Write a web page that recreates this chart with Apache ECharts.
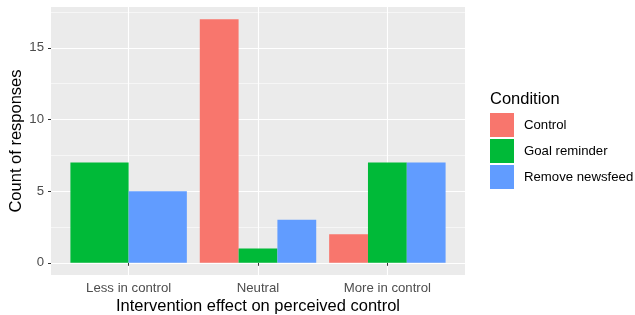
<html>
<head>
<meta charset="utf-8">
<script src="https://cdn.jsdelivr.net/npm/echarts@6/dist/echarts.min.js"></script>
</head>
<body style="margin:0">
<div id="main" style="width:635px;height:315px"></div>
<script>
var categories = ['Less in control', 'Neutral', 'More in control'];
var conditions = ['Control', 'Goal reminder', 'Remove newsfeed'];
var control = [0, 17, 2];
var goalReminder = [7, 1, 7];
var removeNewsfeed = [5, 3, 7];
var colors = ['#F8766D', '#00BA38', '#619CFF'];

var counts = [control, goalReminder, removeNewsfeed];

// ggplot-style dodge: bars present in a category share a width of 0.9
function dodge(seriesIdx) {
    var out = [];
    for (var c = 0; c < categories.length; c++) {
        var present = [];
        for (var s = 0; s < counts.length; s++) {
            if (counts[s][c] > 0) present.push(s);
        }
        var k = present.indexOf(seriesIdx);
        if (k < 0) continue;
        var w = 0.9 / present.length;
        out.push([c + 1 - 0.45 + (k + 0.5) * w, counts[seriesIdx][c], w]);
    }
    return out;
}

function renderBar(params, api) {
    var x = api.value(0), v = api.value(1), w = api.value(2);
    var p0 = api.coord([x - w / 2, v]);
    var p1 = api.coord([x + w / 2, 0]);
    return {
        type: 'rect',
        shape: {x: p0[0], y: p0[1], width: p1[0] - p0[0], height: p1[1] - p0[1]},
        style: {fill: api.visual('color')}
    };
}

var myChart = echarts.init(document.getElementById('main'));
var font = 'Liberation Sans, Arial, sans-serif';

myChart.setOption({
    animation: false,
    backgroundColor: '#fff',
    textStyle: {fontFamily: font},
    title: {
        text: 'Condition',
        left: 485,
        top: 86,
        textStyle: {fontSize: 16.5, fontWeight: 'normal', color: '#000', fontFamily: font}
    },
    legend: {
        orient: 'vertical',
        left: 485,
        top: 108,
        itemWidth: 24,
        itemHeight: 24,
        itemGap: 2,
        icon: 'rect',
        data: conditions,
        textStyle: {fontSize: 13.2, color: '#000', fontFamily: font, padding: [0, 0, 0, 5]}
    },
    grid: {
        left: 51, right: 170, top: 7, bottom: 40,
        containLabel: false, outerBoundsMode: 'none',
        show: true, backgroundColor: '#EBEBEB', borderWidth: 0
    },
    xAxis: {
        type: 'value',
        min: 0.4,
        max: 3.6,
        splitNumber: 3,
        name: 'Intervention effect on perceived control',
        nameLocation: 'middle',
        nameGap: 23,
        nameMoveOverlap: false,
        nameTextStyle: {fontSize: 16.5, color: '#000', fontFamily: font},
        axisLine: {show: false},
        axisTick: {show: true, length: 3, lineStyle: {color: '#333'}, customValues: [1, 2, 3]},
        axisLabel: {
            customValues: [1, 2, 3],
            margin: 7,
            fontSize: 13.2,
            color: '#4D4D4D',
            formatter: function (v) { return categories[Math.round(v) - 1] || ''; }
        },
        splitLine: {show: true, lineStyle: {color: '#fff', width: 1.1}}
    },
    yAxis: {
        type: 'value',
        min: -0.85,
        max: 17.85,
        splitNumber: 4,
        name: 'Count of responses',
        nameLocation: 'middle',
        nameGap: 26,
        nameMoveOverlap: false,
        nameTextStyle: {fontSize: 16.5, color: '#000', fontFamily: font},
        axisLine: {show: false},
        axisTick: {show: true, length: 3, lineStyle: {color: '#333'}, customValues: [0, 5, 10, 15]},
        axisLabel: {customValues: [0, 5, 10, 15], margin: 7, fontSize: 13.2, color: '#4D4D4D'},
        splitLine: {show: true, lineStyle: {color: '#fff', width: 1.1}},
        minorTick: {show: false, splitNumber: 2},
        minorSplitLine: {show: true, lineStyle: {color: '#fff', width: 0.55}}
    },
    series: conditions.map(function (name, i) {
        return {
            name: name,
            type: 'custom',
            renderItem: renderBar,
            itemStyle: {color: colors[i]},
            encode: {x: 0, y: 1},
            data: dodge(i),
            z: 3
        };
    })
});
</script>
</body>
</html>
